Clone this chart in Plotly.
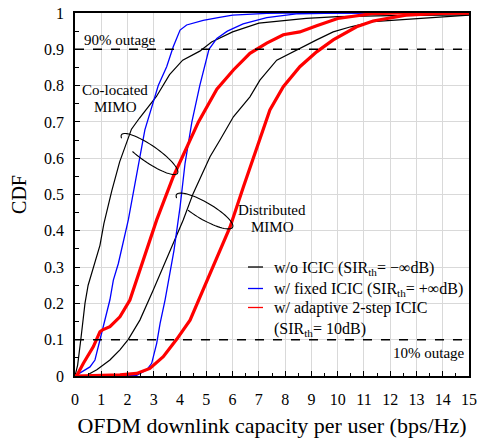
import math
import plotly.graph_objects as go

# ---------------- data ----------------
colo_black_x = [0, 0.1, 0.22, 0.38, 0.5, 0.7, 0.95, 1.1, 1.4, 1.7, 2.15, 2.45, 3.1, 3.6, 4.1, 4.75, 5.2, 6.0, 7.0, 8.8, 10, 12, 15]
colo_black_y = [0, 0.03, 0.10, 0.20, 0.25, 0.30, 0.36, 0.42, 0.51, 0.59, 0.68, 0.71, 0.77, 0.83, 0.87, 0.895, 0.92, 0.948, 0.972, 0.985, 0.99, 0.993, 0.995]

colo_blue_x = [0, 0.3, 0.57, 0.76, 0.95, 1.08, 1.33, 1.46, 1.65, 2.03, 2.41, 2.66, 3.17, 3.49, 3.74, 4.0, 4.25, 4.88, 5.5, 6.0, 7.3, 8, 15]
colo_blue_y = [0, 0.012, 0.025, 0.044, 0.099, 0.145, 0.21, 0.264, 0.31, 0.43, 0.586, 0.678, 0.80, 0.852, 0.907, 0.953, 0.967, 0.98, 0.988, 0.994, 0.999, 1.0, 1.0]

colo_red_x = [0, 0.06, 0.32, 0.7, 0.95, 1.05, 1.33, 1.71, 2.09, 2.35, 2.6, 3.11, 3.74, 4.0, 4.25, 4.7, 5.4, 6.03, 6.66, 7.3, 7.93, 8.56, 9.2, 10.0, 11.3, 12.5, 15]
colo_red_y = [0, 0, 0.035, 0.081, 0.122, 0.127, 0.136, 0.163, 0.209, 0.264, 0.32, 0.43, 0.549, 0.59, 0.632, 0.70, 0.79, 0.843, 0.889, 0.917, 0.94, 0.948, 0.965, 0.985, 0.998, 1.0, 1.0]

dist_black_x = [0, 0.45, 0.57, 0.83, 1.33, 1.71, 2.03, 2.47, 2.98, 3.36, 3.62, 4.12, 4.5, 5.14, 5.52, 6.03, 6.66, 7.04, 7.68, 8.56, 9.2, 9.83, 10.5, 11.35, 12.6, 13.9, 15]
dist_black_y = [0, 0, 0.007, 0.017, 0.044, 0.072, 0.101, 0.154, 0.237, 0.301, 0.347, 0.43, 0.503, 0.604, 0.65, 0.714, 0.769, 0.815, 0.87, 0.903, 0.926, 0.948, 0.962, 0.976, 0.982, 0.99, 0.994]

dist_blue_x = [0, 1.5, 2.35, 2.73, 2.92, 3.11, 3.24, 3.43, 3.62, 3.77, 4.0, 4.19, 4.45, 4.75, 5.1, 5.4, 5.8, 6.4, 7.3, 8.5, 10, 15]
dist_blue_y = [0, 0, 0.002, 0.017, 0.035, 0.09, 0.145, 0.21, 0.283, 0.347, 0.466, 0.586, 0.70, 0.80, 0.90, 0.93, 0.95, 0.97, 0.987, 0.998, 1.0, 1.0]

dist_red_x = [0, 1.0, 1.71, 2.35, 2.85, 3.36, 3.87, 4.38, 4.88, 5.26, 5.6, 5.9, 6.41, 7.04, 7.42, 7.93, 8.56, 9.2, 9.83, 10.72, 11.35, 12.6, 13.9, 15]
dist_red_y = [0, 0.001, 0.003, 0.007, 0.021, 0.053, 0.101, 0.154, 0.237, 0.30, 0.36, 0.41, 0.521, 0.65, 0.733, 0.797, 0.852, 0.893, 0.926, 0.962, 0.978, 0.994, 0.999, 1.0]

x_ticks = list(range(0, 16))
y_ticks = [round(0.1 * i, 1) for i in range(11)]

legend_labels = [
    "w/o ICIC (SIR<sub>th</sub>= \u2212\u221edB)",
    "w/ fixed ICIC (SIR<sub>th</sub>= +\u221edB)",
    "w/ adaptive 2-step ICIC",
    "(SIR<sub>th</sub>= 10dB)",
]
legend_colors = ["black", "#0000ff", "#ff0000"]

# ---------------- figure geometry ----------------
W, H = 478, 438
PL, PR, PT, PB = 75, 469, 13, 376          # plot area in screenshot pixels
L, T = PL, PT
R, B = W - PR, H - PB
PW, PH = PR - PL, PB - PT
XMAX = 15.0
FONT = "Times New Roman, Liberation Serif, DejaVu Serif, serif"


def px2data(px, py):
    return (px - PL) / PW * XMAX, (PB - py) / PH


def px2paper(px, py):
    return (px - PL) / PW, (PB - py) / PH


def ellipse_path(cx, cy, a, b, ang_deg, t0, t1, n=60):
    phi = math.radians(ang_deg)
    pts = []
    for i in range(n + 1):
        t = math.radians(t0 + (t1 - t0) * i / n)
        u, v = a * math.cos(t), b * math.sin(t)
        px = cx + u * math.cos(phi) - v * math.sin(phi)
        py = cy + u * math.sin(phi) + v * math.cos(phi)
        pts.append(px2data(px, py))
    return "M " + " L ".join(f"{x:.4f},{y:.4f}" for x, y in pts)


fig = go.Figure()

series = [
    (colo_black_x, colo_black_y, "black", 1.2),
    (colo_blue_x, colo_blue_y, "#0000ff", 1.3),
    (dist_black_x, dist_black_y, "black", 1.2),
    (dist_blue_x, dist_blue_y, "#0000ff", 1.3),
    (colo_red_x, colo_red_y, "#ff0000", 3.2),
    (dist_red_x, dist_red_y, "#ff0000", 3.2),
]
for xs, ys, c, w in series:
    fig.add_trace(go.Scatter(x=xs, y=ys, mode="lines", line=dict(color=c, width=w),
                             showlegend=False, hoverinfo="skip"))

shapes = []
for yv in (0.9, 0.1):
    shapes.append(dict(type="line", xref="paper", yref="y", x0=0, x1=1, y0=yv, y1=yv,
                       line=dict(color="black", width=1.6, dash="dash")))
shapes.append(dict(type="path", xref="x", yref="y",
                   path=ellipse_path(149.5, 154.0, 34.0, 8.5, 34.6, 117, -200),
                   line=dict(color="black", width=1.1)))
shapes.append(dict(type="path", xref="x", yref="y",
                   path=ellipse_path(204.5, 211.0, 32.5, 8.5, 30.2, 117, -200),
                   line=dict(color="black", width=1.1)))

anns = []


def add_text(px, py, text, xanchor="left", size=15):
    x, y = px2paper(px, py)
    anns.append(dict(x=x, y=y, xref="paper", yref="paper", text=text, xanchor=xanchor,
                     yanchor="middle", showarrow=False,
                     font=dict(family=FONT, size=size, color="black")))


add_text(82, 40, "90% outage")
add_text(115, 90, "Co-located", "center")
add_text(115, 107, "MIMO", "center")
add_text(272, 210, "Distributed", "center")
add_text(272, 227, "MIMO", "center")
add_text(467, 353, "10% outage", "right")

# legend (drawn as short line keys + text)
leg_rows = [267, 288.5, 307.5, 328.5]
for i, c in enumerate(legend_colors):
    x0, y0 = px2paper(248, leg_rows[i])
    x1, _ = px2paper(263, leg_rows[i])
    shapes.append(dict(type="line", xref="paper", yref="paper", x0=x0, x1=x1, y0=y0, y1=y0,
                       line=dict(color=c, width=1.3)))
for i, txt in enumerate(legend_labels):
    add_text(272, leg_rows[i] + (1 if "<sub>" in txt else 0), txt, "left", 16)

axis_common = dict(showline=True, linecolor="black", linewidth=1.6, mirror=True,
                   showgrid=True, gridcolor="#d9d9d9", gridwidth=1, zeroline=False,
                   ticks="inside", ticklen=5, tickcolor="black", tickwidth=1.2,
                   automargin=False, ticklabeloverflow="allow",
                   tickfont=dict(family=FONT, size=16, color="black"))

fig.update_layout(
    width=W, height=H,
    margin=dict(l=L, r=R, t=T, b=B, autoexpand=False),
    paper_bgcolor="white", plot_bgcolor="white",
    font=dict(family=FONT, color="black"),
    shapes=shapes, annotations=anns,
    showlegend=False,
    xaxis=dict(range=[0, 15], tickvals=x_ticks, ticktext=[str(v) for v in x_ticks],
               ticklabelstandoff=8,
               minor=dict(dtick=0.5, ticks="inside", ticklen=3, tickcolor="black", showgrid=False),
               title=dict(text="OFDM downlink capacity per user (bps/Hz)",
                          font=dict(family=FONT, size=22), standoff=11),
               **axis_common),
    yaxis=dict(range=[0, 1], tickvals=y_ticks, ticktext=[f"{v:g}" for v in y_ticks],
               ticklabelstandoff=6,
               minor=dict(dtick=0.05, ticks="inside", ticklen=4, tickcolor="black", showgrid=False),
               title=dict(text="CDF", font=dict(family=FONT, size=20), standoff=12),
               **axis_common),
)

fig.write_html("out.html",
               config={"displayModeBar": False},
               post_script="document.body.style.margin='0';document.body.style.overflow='hidden';")
